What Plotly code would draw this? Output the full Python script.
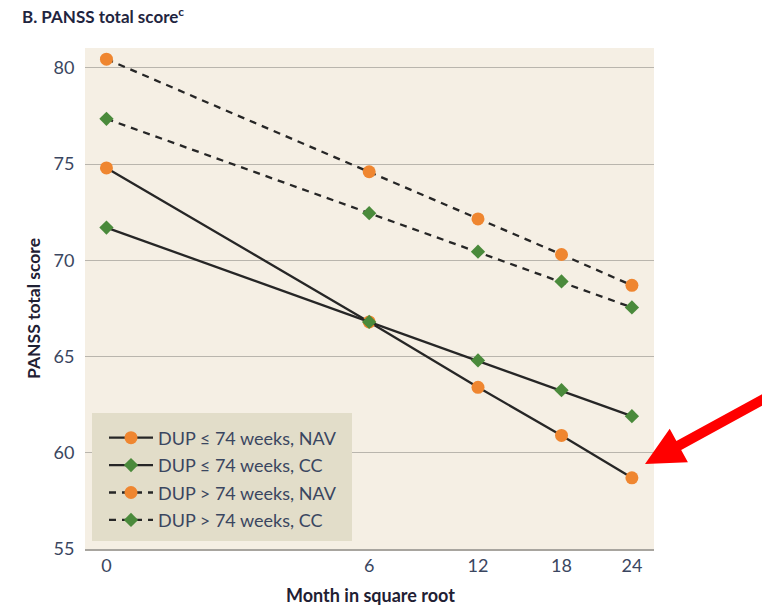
import numpy as np
import plotly.graph_objects as go

months = [0, 6, 12, 18, 24]
tick_labels = ["0", "6", "12", "18", "24"]

nav_short = [74.8, 66.8, 63.4, 60.9, 58.7]
cc_short = [71.7, 66.8, 64.8, 63.25, 61.9]
nav_long = [80.45, 74.6, 72.15, 70.3, 68.7]
cc_long = [77.35, 72.45, 70.45, 68.9, 67.55]

series_names = [
    "DUP ≤ 74 weeks, NAV",
    "DUP ≤ 74 weeks, CC",
    "DUP > 74 weeks, NAV",
    "DUP > 74 weeks, CC",
]

ORANGE = "#ef8630"
GREEN = "#4a8a3b"
LINE = "#262626"
FONT = "Lato"
TXT = "#3a4660"
DARK = "#1f2033"

x_sqrt = np.sqrt(months)

fig = go.Figure()
specs = [
    (nav_short, series_names[0], "solid", "circle", ORANGE, 13),
    (cc_short, series_names[1], "solid", "diamond", GREEN, 11),
    (nav_long, series_names[2], "7px,6px", "circle", ORANGE, 13),
    (cc_long, series_names[3], "7px,6px", "diamond", GREEN, 11),
]
for i, (vals, name, dash, sym, col, sz) in enumerate(specs):
    fig.add_trace(go.Scatter(
        x=x_sqrt, y=vals, name=name, mode="lines+markers",
        legendgroup=f"g{i}",
        line=dict(color=LINE, width=2.3, dash=dash),
        marker=dict(symbol=sym, color=col, size=sz, line=dict(width=0)),
    ))

W, H = 762, 606
L, R, T, B = 85, 654, 48, 549
pw, ph = R - L, B - T

def px(x):
    return (x - L) / pw

def py(y):
    return (B - y) / ph

# red arrow polygon (page pixels)
arrow_pts = [(645, 464), (669.7, 428.8), (676.4, 441.1), (767.6, 391.2),
             (772.4, 400), (681.2, 449.9), (687.9, 462.2)]
path = "M " + " L ".join(f"{px(a):.5f},{py(b):.5f}" for a, b in arrow_pts) + " Z"

fig.update_layout(
    width=W, height=H,
    margin=dict(l=L, r=W - R, t=T, b=H - B, autoexpand=False),
    paper_bgcolor="white",
    plot_bgcolor="#f5efe4",
    font=dict(family=FONT, color=TXT),
    title=dict(
        text="<b>B. PANSS total score<sup>c</sup></b>",
        xref="container", yref="container",
        x=22 / W, xanchor="left", y=1 - 17 / H, yanchor="middle",
        font=dict(family=FONT, size=17, color="#1f2540"),
    ),
    xaxis=dict(
        range=[-0.2, 5.105],
        tickvals=x_sqrt, ticktext=tick_labels,
        showgrid=False, zeroline=False,
        showline=True, linecolor="#a8a59f", linewidth=1.5,
        ticks="", tickfont=dict(size=18, color=TXT),
    ),
    yaxis=dict(
        range=[55, 81.03],
        tickvals=[55, 60, 65, 70, 75, 80],
        showgrid=True, gridcolor="#b9b5ad", gridwidth=1.2,
        zeroline=False, showline=False,
        ticks="outside", ticklen=6, tickcolor="rgba(0,0,0,0)",
        tickfont=dict(size=18, color=TXT),
    ),
    legend=dict(
        x=px(104), y=py(479), xanchor="left", yanchor="middle",
        bgcolor="rgba(0,0,0,0)", borderwidth=0,
        font=dict(family=FONT, size=18, color=TXT),
        tracegroupgap=1,
        itemwidth=44,
    ),
    annotations=[
        dict(text="<b>PANSS total score</b>", xref="paper", yref="paper",
             x=px(33), y=py(308), textangle=-90, showarrow=False,
             font=dict(family=FONT, size=17.5, color=DARK),
             xanchor="center", yanchor="middle"),
        dict(text="<b>Month in square root</b>", xref="paper", yref="paper",
             x=px(370), y=py(595), showarrow=False,
             font=dict(family=FONT, size=18, color=DARK),
             xanchor="center", yanchor="middle"),
    ],
    shapes=[
        dict(type="rect", xref="paper", yref="paper",
             x0=px(92), x1=px(352), y0=py(541), y1=py(413),
             fillcolor="#e2ddc9", line=dict(width=0), layer="above"),
        dict(type="path", path=path, xref="paper", yref="paper",
             fillcolor="#ff0000", line=dict(width=0), layer="above"),
    ],
)

fig.write_html("out.html",
               config={"displayModeBar": False},
               post_script="document.body.style.margin='0';document.body.style.overflow='hidden';")
